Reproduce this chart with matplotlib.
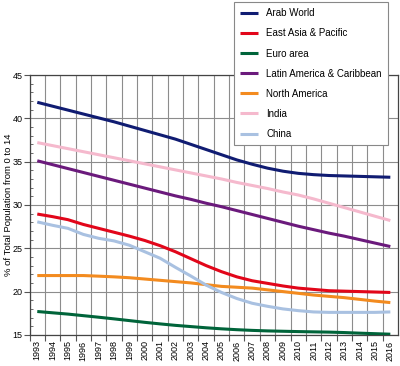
import matplotlib
matplotlib.use("Agg")
import matplotlib.pyplot as plt
from matplotlib.ticker import MultipleLocator, FixedLocator

plt.rcParams['font.family'] = ['Liberation Sans', 'DejaVu Sans']

# data: share of population aged 0-14 (%)
years = list(range(1993, 2017))

arab_world = [41.85, 41.4, 40.95, 40.5, 40.05, 39.6, 39.1, 38.6, 38.1, 37.6, 37.0, 36.4,
              35.8, 35.2, 34.7, 34.25, 33.9, 33.65, 33.5, 33.4, 33.35, 33.3, 33.25, 33.2]
east_asia = [28.95, 28.65, 28.3, 27.75, 27.3, 26.85, 26.4, 25.9, 25.3, 24.6, 23.8, 23.0,
             22.3, 21.7, 21.25, 20.95, 20.65, 20.4, 20.25, 20.1, 20.05, 20.0, 19.95, 19.9]
euro_area = [17.7, 17.55, 17.4, 17.22, 17.04, 16.85, 16.65, 16.45, 16.27, 16.1, 15.96, 15.82,
             15.7, 15.6, 15.52, 15.46, 15.42, 15.38, 15.35, 15.32, 15.27, 15.2, 15.14, 15.08]
latin_america = [35.1, 34.65, 34.2, 33.75, 33.3, 32.85, 32.4, 31.95, 31.5, 31.05, 30.65, 30.2,
                 29.8, 29.35, 28.9, 28.45, 28.0, 27.55, 27.15, 26.75, 26.4, 26.0, 25.6, 25.2]
north_america = [21.85, 21.85, 21.85, 21.85, 21.78, 21.7, 21.6, 21.45, 21.3, 21.15, 21.0, 20.8,
                 20.6, 20.5, 20.4, 20.2, 20.0, 19.8, 19.6, 19.45, 19.3, 19.1, 18.9, 18.73]
india = [37.2, 36.85, 36.5, 36.15, 35.8, 35.45, 35.1, 34.75, 34.4, 34.05, 33.7, 33.35,
         33.0, 32.6, 32.25, 31.9, 31.5, 31.15, 30.7, 30.2, 29.7, 29.2, 28.7, 28.2]
china = [28.05, 27.65, 27.3, 26.6, 26.15, 25.85, 25.35, 24.6, 23.85, 22.8, 21.8, 20.75,
         19.9, 19.2, 18.65, 18.3, 18.0, 17.8, 17.65, 17.6, 17.6, 17.6, 17.6, 17.65]

series = [
    ("Arab World", arab_world, "#101c72"),
    ("East Asia & Pacific", east_asia, "#e2061a"),
    ("Euro area", euro_area, "#00643a"),
    ("Latin America & Caribbean", latin_america, "#6b1a7c"),
    ("North America", north_america, "#f38b1f"),
    ("India", india, "#f5b9cd"),
    ("China", china, "#a9c1e1"),
]

fig = plt.figure(figsize=(4.0, 3.66), dpi=100)
ax = fig.add_axes([0.074, 0.085, 0.921, 0.71])

for name, vals, col in series:
    ax.plot(years, vals, color=col, lw=2.2, label=name, solid_capstyle='butt', zorder=3)

ax.set_xlim(1992.5, 2016.5)
ax.set_ylim(15, 45)

# grid lines sit between the year labels
ax.xaxis.set_major_locator(FixedLocator(years))
ax.xaxis.set_minor_locator(FixedLocator([y + 0.5 for y in range(1992, 2016)]))
ax.set_xticklabels([str(y) for y in years], rotation=90, fontsize=6.5)
ax.tick_params(axis='x', which='major', length=0, pad=4)
ax.tick_params(axis='x', which='minor', length=4, width=0.8, color='#555555')
ax.grid(True, axis='x', which='minor', color='#8c8c8c', lw=0.8, zorder=1)

ax.yaxis.set_major_locator(MultipleLocator(5))
ax.yaxis.set_minor_locator(MultipleLocator(1))
ax.tick_params(axis='y', which='major', length=4, width=0.8, color='#555555',
               labelsize=6.5, pad=1)
ax.tick_params(axis='y', which='minor', length=2.5, width=0.6, direction='in', color='#555555')
ax.grid(True, axis='y', which='major', color='#8c8c8c', lw=0.8, zorder=1)
ax.set_axisbelow(True)

for sp in ax.spines.values():
    sp.set_color('#444444')
    sp.set_linewidth(0.9)

fig.text(0.021, 0.44, "% of Total Population from 0 to 14", fontsize=6.8,
         rotation=90, ha='center', va='center')

handles, labels = ax.get_legend_handles_labels()
leg = fig.legend(handles, labels, loc='upper left', bbox_to_anchor=(0.585, 0.9945),
                 bbox_transform=fig.transFigure, borderaxespad=0, fontsize=7.0,
                 frameon=True, fancybox=False, edgecolor='#888888', framealpha=1,
                 labelspacing=1.04, handlelength=1.85, handletextpad=0.8, borderpad=0.65)
leg.get_frame().set_linewidth(0.8)

fig.savefig("out.png", dpi=100)
